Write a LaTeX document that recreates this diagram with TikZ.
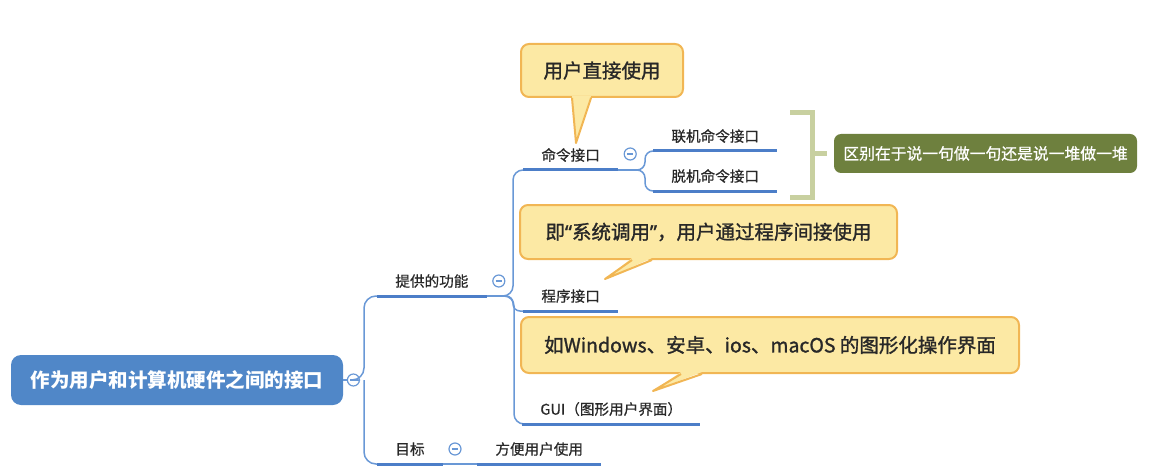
\documentclass[tikz,border=0pt]{standalone}
\usepackage{fontspec}
\setmainfont{Noto Sans CJK SC}
\newfontfamily\notefont{Noto Sans CJK SC}[FakeBold=1.3]
\newfontfamily\labelfont{Noto Sans CJK SC}[FakeBold=0.7]
\newfontfamily\quotefont{Noto Sans}[FakeBold=1.3]
\usepackage{xcolor}
\usepackage{tikz}
\definecolor{rootblue}{RGB}{80,135,200}
\definecolor{linkblue}{RGB}{105,152,214}
\definecolor{ulineblue}{RGB}{76,126,200}
\definecolor{notefill}{RGB}{252,233,164}
\definecolor{noteline}{RGB}{241,182,84}
\definecolor{olivebox}{RGB}{110,128,62}
\definecolor{olivebrace}{RGB}{200,208,160}
\definecolor{labelgray}{RGB}{40,40,40}

\begin{document}
\begin{tikzpicture}[x=0.5pt,y=-0.5pt,
    rootbox/.style={fill=rootblue,rounded corners=5pt,text=white,
        font=\bfseries\fontsize{9.75}{11}\selectfont,minimum width=166pt,minimum height=25pt},
    topic/.style={anchor=south west,inner xsep=9pt,inner ysep=3pt,text height=6pt,
        text depth=1.5pt,text=labelgray,font=\labelfont\fontsize{7.3}{9}\selectfont},
    fold/.style={circle,draw=linkblue,fill=white,line width=0.6pt,minimum size=6pt,inner sep=0pt,
        path picture={\draw[linkblue,line width=0.6pt] ([xshift=-1.6pt]path picture bounding box.center)
            -- ([xshift=1.6pt]path picture bounding box.center);}},
    link/.style={linkblue,line width=0.75pt},
    uline/.style={ulineblue,line width=1.5pt},
    note/.style={fill=notefill,draw=noteline,line width=1pt,rounded corners=4pt,
        text=labelgray,font=\notefont\fontsize{9.75}{11}\selectfont},
    diffbox/.style={fill=olivebox,rounded corners=3.5pt,text=white,
        font=\labelfont\fontsize{7.9}{9}\selectfont,minimum width=151.5pt,minimum height=19.5pt}]
    \useasboundingbox (0,0) rectangle (1159,470);
    % root
    \node[rootbox] (root) at (177,380) {作为用户和计算机硬件之间的接口};
    \node[fold] (c0) at ([xshift=5pt]root.east) {};
    \coordinate (trunk) at ([xshift=2pt]c0.east);
    % first level
    \node[topic] (func) at (377,296) {提供的功能};
    \node[topic] (goal) at (377,464) {目标};
    \node[fold] (c1) at ([xshift=6pt,yshift=7.5pt]func.south east) {};
    \node[fold] (c3) at ([xshift=6pt,yshift=7.5pt]goal.south east) {};
    \node[topic] (easy) at (477,464) {方便用户使用};
    % functions
    \node[topic] (cmd) at (523,170) {命令接口};
    \node[topic] (prog) at (523,311) {程序接口};
    \node[topic] (gui) at (522,424) {GUI（图形用户界面）};
    \node[fold] (c2) at ([xshift=6pt,yshift=8pt]cmd.south east) {};
    \node[topic] (online) at (653,151) {联机命令接口};
    \node[topic] (offline) at (653,191) {脱机命令接口};
    \coordinate (fork1) at ([xshift=9.5pt]func.south east);
    \coordinate (fork2) at ([xshift=10pt]cmd.south east);
    % connectors
    \draw[link] (root.east) -- (c0.west);
    \draw[link,rounded corners=6pt] (c0.east) -- (trunk) |- (func.south west);
    \draw[link,rounded corners=6pt] (trunk) |- (goal.south west);
    \draw[link] (func.south east) -- (fork1);
    \draw[link,rounded corners=5pt] (fork1) -| ([xshift=-5pt]cmd.south west) -- (cmd.south west);
    \draw[link,rounded corners=3.5pt] (fork1) -| ([xshift=-5pt]prog.south west) -- (prog.south west);
    \draw[link,rounded corners=5pt] (fork1) -| ([xshift=-4pt]gui.south west) -- (gui.south west);
    \draw[link] (cmd.south east) -- (fork2);
    \foreach \t in {online,offline}
        \draw[link,rounded corners=4pt] (fork2) -| ([xshift=-4pt]\t.south west) -- (\t.south west);
    \draw[link] (goal.south east) -- (easy.south west);
    \foreach \t in {func,cmd,prog,gui,online,offline,goal,easy}
        \draw[uline] (\t.south west) -- (\t.south east);
    % summary
    \node[diffbox] (diff) at (985.5,153.5) {区别在于说一句做一句还是说一堆做一堆};
    \draw[olivebrace,line width=2.5pt] (790,113) -| (812,197) -- (790,197);
    \coordinate (brace) at (812,153.5);
    \draw[olivebrace,line width=2.5pt] (brace) -- ([xshift=-3.5pt]diff.west);
    % notes
    \node[note,minimum width=81pt,minimum height=26.5pt] (note1) at (602,70.5) {用户直接使用};
    \node[note,minimum width=188.5pt,minimum height=27pt] (note2) at (708.5,232)
        {即{\quotefont“}系统调用{\quotefont”}，用户通过程序间接使用};
    \node[note,minimum width=249pt,minimum height=28pt] (note3) at (770,345) {如Windows、安卓、ios、macOS 的图形化操作界面};
    \coordinate (tip1) at (576,143);
    \coordinate (tip2) at (605,279);
    \coordinate (tip3) at (653,391);
    \foreach \n/\a/\b in {1/26/35.5,2/56.5/66.5,3/80.5/91} {
        \fill[notefill] ([xshift=\a pt,yshift=1pt]note\n.south west) -- (tip\n)
            -- ([xshift=\b pt,yshift=1pt]note\n.south west) -- cycle;
        \draw[noteline,line width=1pt,line join=round] ([xshift=\a pt]note\n.south west) -- (tip\n)
            -- ([xshift=\b pt]note\n.south west);
    }
\end{tikzpicture}
\end{document}
